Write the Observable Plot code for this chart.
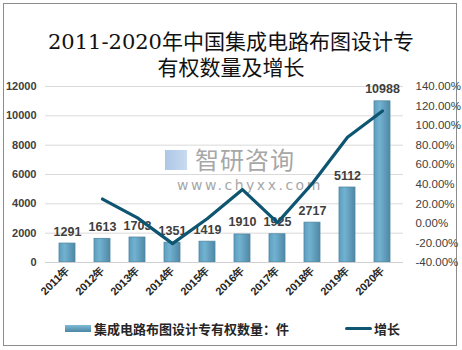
<!DOCTYPE html>
<html><head><meta charset="utf-8">
<script src="https://cdn.jsdelivr.net/npm/d3@7"></script>
<script src="https://cdn.jsdelivr.net/npm/@observablehq/plot@0.6"></script>
<style>
body{margin:0;background:#fff;}
#wrap{position:relative;width:462px;height:350px;overflow:hidden;background:#fff;font-family:"Liberation Sans","Noto Sans CJK SC",sans-serif;}
#frame{position:absolute;left:3px;top:3px;width:452px;height:341px;border:1px solid #8c8c8c;}
#title{position:absolute;left:0;top:29px;width:462px;text-align:center;font-family:"DejaVu Serif","Noto Sans CJK SC",serif;font-size:21px;line-height:26px;color:#111;}
#chart{position:absolute;left:0;top:78px;}
#wm{position:absolute;left:165px;top:146px;color:#8a8a8a;opacity:0.75;}
#wm .a{font-family:"Noto Sans CJK SC",sans-serif;font-size:24px;line-height:26px;letter-spacing:1px;position:absolute;left:30px;top:0;white-space:nowrap;}
#wm .b{font-family:"DejaVu Sans",sans-serif;font-size:14px;letter-spacing:2.5px;position:absolute;left:12px;top:31px;white-space:nowrap;}
#wm .logo{position:absolute;left:0;top:4px;width:22px;height:20px;background:linear-gradient(90deg,#7fa7d6,#a9c8e8);opacity:0.85;}
#legend{position:absolute;top:319px;left:0;width:462px;height:20px;font-size:13px;font-weight:bold;color:#262626;font-family:"Noto Sans CJK SC",sans-serif;}
.sw1{position:absolute;left:65px;top:6px;width:26px;height:7px;background:linear-gradient(180deg,#7fbad6,#4a86a2);}
.t1{position:absolute;left:94px;top:0;line-height:20px;}
.sw2{position:absolute;left:345px;top:8px;width:27px;height:3px;background:#0d5570;border-radius:2px;}
.t2{position:absolute;left:374px;top:0;line-height:20px;}
</style></head>
<body>
<div id="wrap">
<div id="frame"></div>
<div id="title">2011-2020年中国集成电路布图设计专<br>有权数量及增长</div>
<div id="wm"><div class="logo"></div><div class="a">智研咨询</div><div class="b">www.chyxx.com</div></div>
<div id="chart"></div>
<div id="legend"><div class="sw1"></div><div class="t1">集成电路布图设计专有权数量：件</div><div class="sw2"></div><div class="t2">增长</div></div>
</div>
<script>
const years = ["2011年","2012年","2013年","2014年","2015年","2016年","2017年","2018年","2019年","2020年"];
const counts = [1291,1613,1703,1351,1419,1910,1925,2717,5112,10988];
const growth = [null,24.9,5.6,-20.7,5.0,34.6,0.8,41.1,88.1,114.9];
const leftTicks = [0,2000,4000,6000,8000,10000,12000];
const rightTicks = [-40,-20,0,20,40,60,80,100,120,140];

const YMAX = 12000, PMIN = -40, PMAX = 140;
const toY = p => (p - PMIN) / (PMAX - PMIN) * YMAX;
const fromY = v => v / YMAX * (PMAX - PMIN) + PMIN;

const barData = years.map((y,i)=>({year:y,count:counts[i]}));
const lineData = years.map((y,i)=>({year:y,g:growth[i]})).filter(d=>d.g!=null);

const chart = Plot.plot({
  width: 462, height: 237,
  marginLeft: 45, marginRight: 59, marginTop: 8, marginBottom: 53,
  style: {fontFamily: "Liberation Sans, sans-serif", background: "transparent"},
  x: {domain: years, paddingInner: 0.55, paddingOuter: 0.275, label: null},
  y: {domain: [0, YMAX], label: null},
  marks: [
    Plot.gridY(leftTicks, {stroke: "#d9d9d9", strokeOpacity: 1}),
    Plot.barY(barData, {x: "year", y: "count", fill: "url(#barGrad)", stroke: "#4f87a3", strokeWidth: 0.8}),
    Plot.ruleY([0], {stroke: "#d0d0d0"}),
    Plot.text(barData, {x: "year", y: "count", text: d => String(d.count), dy: -12, fontSize: 12.5, fontWeight: "bold", fill: "#404040"}),
    Plot.line(lineData, {x: "year", y: d => toY(d.g), stroke: "#0d5570", strokeWidth: 3.2, strokeLinejoin: "round"}),
    Plot.axisY(leftTicks, {anchor: "left", tickSize: 0, tickPadding: 9, fontSize: 11, fontWeight: "bold", fill: "#404040", tickFormat: d => String(d), label: null}),
    Plot.axisY(rightTicks.map(toY), {anchor: "right", tickSize: 0, tickPadding: 12, fontSize: 11.5, fill: "#404040", tickFormat: d => fromY(d).toFixed(2) + "%", label: null}),
    Plot.axisX({tickSize: 0, tickRotate: -45, tickPadding: 6, fontSize: 11, fontWeight: "bold", fill: "#262626", label: null})
  ]
});

const svg = d3.select(chart);
const defs = svg.insert("defs", ":first-child");
const g = defs.append("linearGradient").attr("id","barGrad").attr("x1","0").attr("x2","1").attr("y1","0").attr("y2","0");
g.append("stop").attr("offset","0").attr("stop-color","#5d9dbd");
g.append("stop").attr("offset","0.35").attr("stop-color","#72b2d1");
g.append("stop").attr("offset","1").attr("stop-color","#4f88a5");
document.getElementById("chart").appendChild(chart);
</script>
</body></html>
